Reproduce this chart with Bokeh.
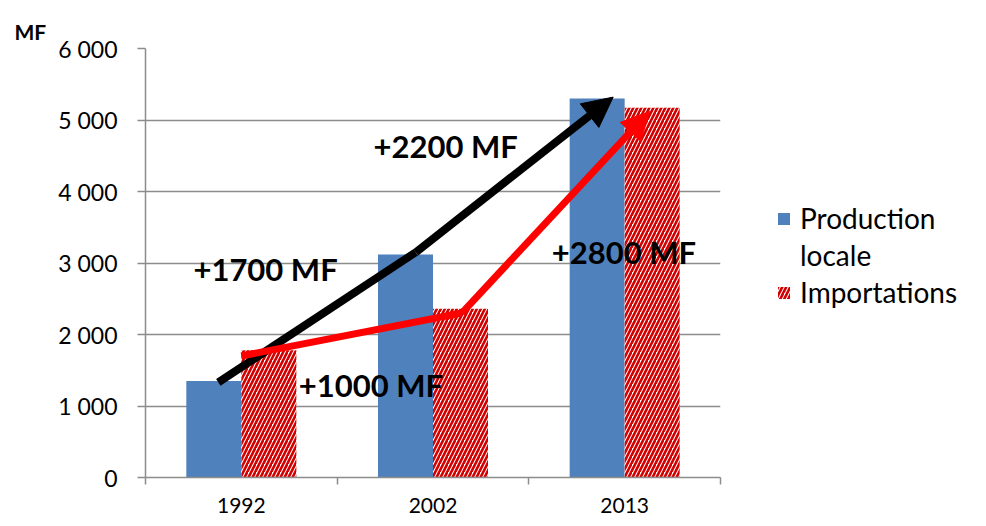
from bokeh.plotting import figure
from bokeh.models import (Range1d, FixedTicker, Legend, LegendItem, Arrow,
                          NormalHead, ColumnDataSource)
from bokeh.core.properties import value
from bokeh.embed import file_html
from bokeh.resources import INLINE

# ---- data ----
years = ["1992", "2002", "2013"]
production_locale = [1350, 3120, 5300]
importations = [1780, 2360, 5170]
y_ticks = [0, 1000, 2000, 3000, 4000, 5000, 6000]
y_tick_labels = ["0", "1 000", "2 000", "3 000", "4 000", "5 000", "6 000"]

# trend arrows (x in category index units, y in MF)
black_x = [0.38, 1.41, 2.44]
black_y = [1330, 3150, 5320]
red_x = [0.50, 1.65, 2.63]
red_y = [1700, 2300, 5120]

ann_text = ["+2200 MF", "+1700 MF", "+2800 MF", "+1000 MF"]
ann_x = [1.19, 0.25, 2.12, 0.80]
ann_y = [4640, 2910, 3150, 1290]

BLUE = "#4F81BD"
HATCH_RED = "#D20000"
GRID = "#8C8C8C"
FONT = "Lato"

bw = 0.287
centers = [i + 0.5 for i in range(len(years))]

p = figure(output_backend="svg", toolbar_location=None,
           x_range=Range1d(0, 3), y_range=Range1d(0, 6000),
           frame_width=575, frame_height=429,
           min_border_left=145, min_border_top=48, min_border_bottom=47,
           min_border_right=262)
p.outline_line_color = None
p.background_fill_color = "white"
p.border_fill_color = "white"

p.title.text = "MF"
p.title.align = "left"
p.title.offset = -131
p.title.text_font = FONT
p.title.text_font_style = "bold"
p.title.text_font_size = "21px"
p.title.text_color = "black"

src = ColumnDataSource(dict(
    xp=[c - bw / 2 for c in centers], xi=[c + bw / 2 for c in centers],
    prod=production_locale, imp=importations))

r1 = p.vbar(x="xp", top="prod", width=bw, source=src,
            fill_color=BLUE, line_color=None)
r2 = p.vbar(x="xi", top="imp", width=bw, source=src,
            fill_color="white", line_color=None,
            hatch_pattern="right_diagonal_line", hatch_color=HATCH_RED,
            hatch_scale=8, hatch_weight=2.6)
# invisible renderer used only for the second line of the first legend label
r_blank = p.vbar(x=[], top=[], width=bw, fill_alpha=0, line_alpha=0)

# arrows
p.line(black_x[:2], black_y[:2], line_color="black", line_width=8)
p.line(red_x[:2], red_y[:2], line_color="red", line_width=7)
p.add_layout(Arrow(x_start=black_x[1], y_start=black_y[1], x_end=black_x[2], y_end=black_y[2],
                   line_color="black", line_width=8,
                   end=NormalHead(size=30, fill_color="black", line_color="black")))
p.add_layout(Arrow(x_start=red_x[1], y_start=red_y[1], x_end=red_x[2], y_end=red_y[2],
                   line_color="red", line_width=7,
                   end=NormalHead(size=28, fill_color="red", line_color="red")))

p.text(x=ann_x, y=ann_y, text=ann_text, text_font=value(FONT),
       text_font_style="bold", text_font_size="31px", text_color="black",
       text_align="left", text_baseline="middle")

# axes
p.xaxis.ticker = FixedTicker(ticks=centers, minor_ticks=[0, 1, 2, 3])
p.xaxis.major_label_overrides = {c: y for c, y in zip(centers, years)}
p.xaxis.major_tick_out = 0
p.xaxis.major_tick_in = 0
p.xaxis.minor_tick_out = 7
p.xaxis.minor_tick_in = 0
p.xaxis.minor_tick_line_color = GRID
p.xaxis.minor_tick_line_width = 1.5
p.xaxis.axis_line_color = GRID
p.xaxis.axis_line_width = 1.5
p.xaxis.major_label_standoff = 13
p.xaxis.major_label_text_font = FONT
p.xaxis.major_label_text_font_size = "21px"
p.xaxis.major_label_text_color = "black"

p.yaxis.ticker = FixedTicker(ticks=y_ticks, minor_ticks=[])
p.yaxis.major_label_overrides = {t: l for t, l in zip(y_ticks, y_tick_labels)}
p.yaxis.major_tick_out = 8
p.yaxis.major_tick_in = 0
p.yaxis.major_tick_line_color = GRID
p.yaxis.major_tick_line_width = 1.5
p.yaxis.axis_line_color = GRID
p.yaxis.axis_line_width = 1.5
p.yaxis.major_label_standoff = 20
p.yaxis.major_label_text_font = FONT
p.yaxis.major_label_text_font_size = "23px"
p.yaxis.major_label_text_color = "black"

p.xgrid.grid_line_color = None
p.ygrid.grid_line_color = GRID
p.ygrid.grid_line_width = 1.5
p.ygrid.ticker = FixedTicker(ticks=y_ticks)

legend = Legend(items=[LegendItem(label="Production", renderers=[r1]),
                       LegendItem(label="locale", renderers=[r_blank]),
                       LegendItem(label="Importations", renderers=[r2])],
                location=(56, 168), border_line_color=None, background_fill_alpha=0,
                label_text_font=FONT, label_text_font_size="28px",
                label_text_color="black", glyph_width=15, glyph_height=15,
                label_height=34, spacing=3, padding=0, margin=0, label_standoff=9)
p.add_layout(legend, "right")

open("out.html", "w").write(file_html(p, INLINE))
